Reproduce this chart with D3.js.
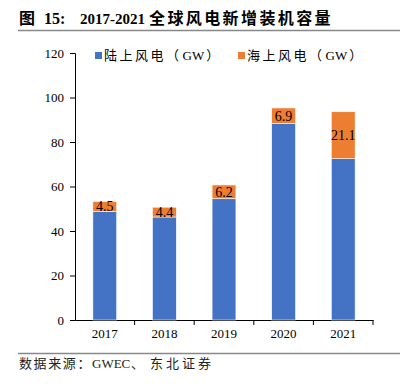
<!DOCTYPE html>
<html>
<head>
<meta charset="utf-8">
<script src="https://cdn.jsdelivr.net/npm/d3@7"></script>
<style>
  body { margin: 0; background: #fff; }
  svg text { font-family: "Liberation Serif", "Noto Sans CJK SC", serif; }
</style>
</head>
<body>
<svg id="chart" width="407" height="391"></svg>
<script>
const years = ['2017', '2018', '2019', '2020', '2021'];
const onshore = [48.8, 46.3, 54.5, 88.4, 72.5];
const offshore = [4.5, 4.4, 6.2, 6.9, 21.1];
const yTicks = [0, 20, 40, 60, 80, 100, 120];
const seriesNames = ['陆上风电', '海上风电'];
const unit = 'GW';

const BLUE = '#4472C4';
const ORANGE = '#ED7D31';

const svg = d3.select('#chart');
const margin = { top: 53, right: 34, bottom: 71, left: 75 };
const width = 407, height = 391;

// Title + rules
const title = svg.append('text')
    .attr('y', 24)
    .attr('font-size', '16px')
    .attr('font-weight', 'bold')
    .attr('fill', '#000');
title.append('tspan').attr('x', 19).text('图');
title.append('tspan').attr('x', 44).text('15:');
title.append('tspan').attr('x', 80).attr('font-size', '15px').text('2017-2021');
title.append('tspan').attr('x', 149).attr('letter-spacing', '2.4px').text('全球风电新增装机容量');

svg.append('line')
    .attr('x1', 18).attr('x2', 400)
    .attr('y1', 30.5).attr('y2', 30.5)
    .attr('stroke', '#888').attr('stroke-width', 1.5);

svg.append('line')
    .attr('x1', 18).attr('x2', 400)
    .attr('y1', 353.5).attr('y2', 353.5)
    .attr('stroke', '#888').attr('stroke-width', 1.5);

const src = svg.append('text')
    .attr('y', 368)
    .attr('font-size', '13px')
    .attr('fill', '#222');
src.append('tspan').attr('x', 19).attr('letter-spacing', '1.6px').text('数据来源：');
src.append('tspan').attr('x', 92).text('GWEC');
src.append('tspan').attr('x', 131).text('、');
src.append('tspan').attr('x', 150).attr('letter-spacing', '3px').text('东北证券');

const xScale = d3.scaleBand()
    .domain(years)
    .range([margin.left, width - margin.right])
    .paddingInner(0.6)
    .paddingOuter(0.3);

const yScale = d3.scaleLinear()
    .domain([0, 120])
    .range([height - margin.bottom, margin.top]);

// Axes
const yAxis = d3.axisLeft(yScale)
    .tickValues(yTicks)
    .tickSize(5)
    .tickPadding(6);

const gy = svg.append('g')
    .attr('transform', `translate(${margin.left},0)`)
    .call(yAxis);
gy.select('.domain').attr('stroke', '#000');
gy.selectAll('text').attr('font-size', '13px').attr('fill', '#000')
    .attr('font-family', '"Liberation Serif", serif');

const xAxis = d3.axisBottom(xScale).tickSize(0).tickPadding(9);
const gx = svg.append('g')
    .attr('transform', `translate(0,${yScale(0)})`)
    .call(xAxis);
gx.select('.domain').attr('stroke', '#000');
gx.selectAll('text').attr('font-size', '13px').attr('fill', '#000')
    .attr('font-family', '"Liberation Serif", serif');

// category separator ticks
const step = xScale.step();
const sep = d3.range(1, years.length + 1).map(i => margin.left + i * step);
gx.selectAll('.sep')
    .data(sep)
    .enter()
    .append('line')
    .attr('x1', d => d).attr('x2', d => d)
    .attr('y1', 0).attr('y2', 5)
    .attr('stroke', '#000');

// Bars
svg.selectAll('.bar-on')
    .data(onshore)
    .enter()
    .append('rect')
    .attr('class', 'bar-on')
    .attr('x', (_d, i) => xScale(years[i]))
    .attr('y', d => yScale(d))
    .attr('width', xScale.bandwidth())
    .attr('height', d => yScale(0) - yScale(d))
    .attr('fill', BLUE)
    .attr('stroke', '#fff').attr('stroke-width', 0.6);

svg.selectAll('.bar-off')
    .data(offshore)
    .enter()
    .append('rect')
    .attr('class', 'bar-off')
    .attr('x', (_d, i) => xScale(years[i]))
    .attr('y', (d, i) => yScale(onshore[i] + d))
    .attr('width', xScale.bandwidth())
    .attr('height', (d, i) => yScale(onshore[i]) - yScale(onshore[i] + d))
    .attr('fill', ORANGE)
    .attr('stroke', '#fff').attr('stroke-width', 0.6);

svg.selectAll('.lbl')
    .data(offshore)
    .enter()
    .append('text')
    .attr('class', 'lbl')
    .attr('x', (_d, i) => xScale(years[i]) + xScale.bandwidth() / 2)
    .attr('y', (d, i) => yScale(onshore[i] + d / 2))
    .attr('dy', '0.36em')
    .attr('text-anchor', 'middle')
    .attr('font-size', '14px')
    .attr('fill', '#000')
    .text(d => d.toFixed(1));

// Legend
const legend = svg.append('g').attr('transform', 'translate(95,52)');
[[BLUE, 0], [ORANGE, 143]].forEach(([c, x], i) => {
    legend.append('rect')
        .attr('x', x).attr('y', 0)
        .attr('width', 7).attr('height', 7)
        .attr('fill', c);
    const t = legend.append('text')
        .attr('x', x + 9).attr('y', 8)
        .attr('font-size', '13px')
        .attr('fill', '#000');
    t.append('tspan').attr('letter-spacing', '2.5px').text(seriesNames[i] + '（');
    t.append('tspan').attr('dx', 1).text(unit);
    t.append('tspan').attr('dx', 2).text('）');
});
</script>
</body>
</html>
